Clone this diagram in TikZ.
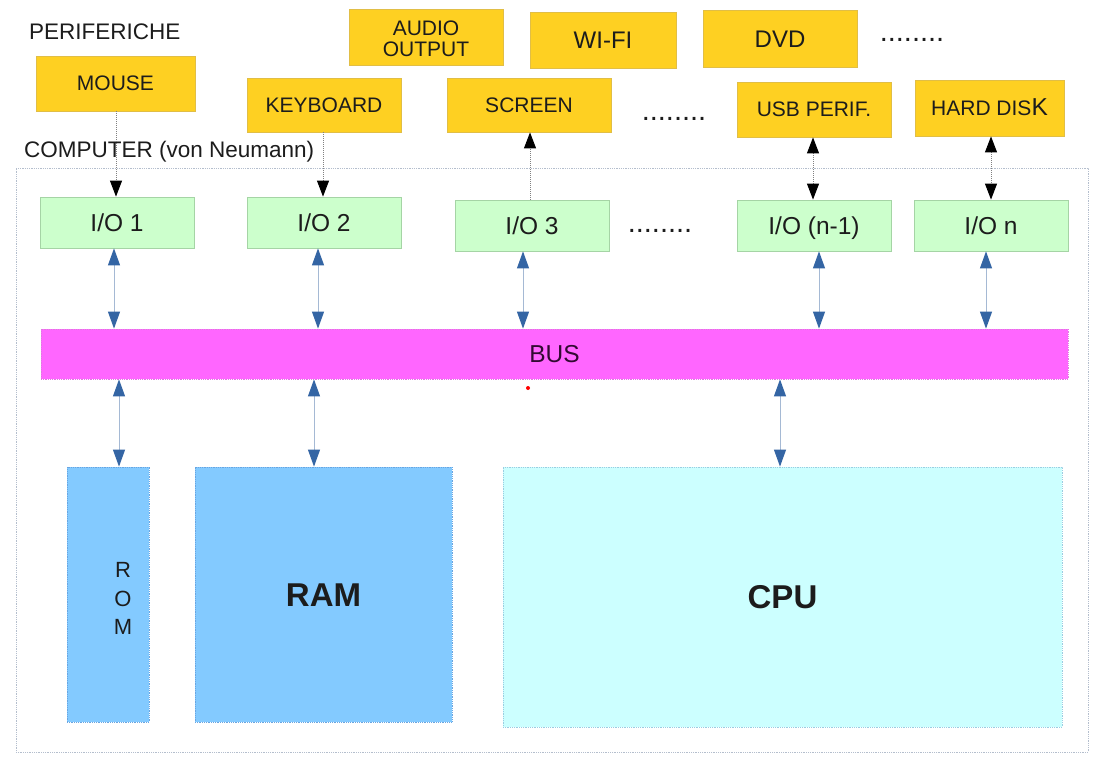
\documentclass[tikz,border=0pt]{standalone}
\usepackage{fontspec}
\setmainfont{Liberation Sans}
\usetikzlibrary{arrows.meta}
\definecolor{gold}{RGB}{254,208,34}
\definecolor{goldline}{RGB}{225,190,70}
\definecolor{iofill}{RGB}{204,255,204}
\definecolor{ioline}{RGB}{165,212,165}
\definecolor{busfill}{RGB}{255,102,255}
\definecolor{busline}{RGB}{225,120,225}
\definecolor{memfill}{RGB}{131,202,255}
\definecolor{memline}{RGB}{105,165,225}
\definecolor{cpufill}{RGB}{204,255,255}
\definecolor{cpuline}{RGB}{155,205,225}
\definecolor{outline}{RGB}{180,190,205}
\definecolor{txt}{RGB}{28,28,28}
\definecolor{bustxt}{RGB}{50,10,50}
\definecolor{bline}{RGB}{165,185,212}
\definecolor{tipblue}{RGB}{52,101,164}
\begin{document}
\begin{tikzpicture}[x=1pt,y=-1pt,
  box/.style={draw, line width=0.8pt, inner sep=0pt, text=txt, text depth=0pt},
  periph/.style={box, fill=gold, draw=goldline, font=\fontsize{21}{22}\selectfont, text height=15pt, minimum width=154pt, minimum height=55pt},
  bigperiph/.style={periph, font=\fontsize{24}{24}\selectfont, text height=17.2pt},
  iobox/.style={box, fill=iofill, draw=ioline, font=\fontsize{24.5}{25}\selectfont, text height=17.5pt, minimum width=154pt, minimum height=51pt},
  busbox/.style={box, fill=busfill, draw=busline, densely dotted, text=bustxt, font=\fontsize{24.5}{25}\selectfont, text height=17.5pt},
  membox/.style={box, fill=memfill, draw=memline, densely dotted, font=\bfseries\fontsize{33}{33}\selectfont, text height=23.6pt},
  cpubox/.style={box, fill=cpufill, draw=cpuline, densely dotted, font=\bfseries\fontsize{33}{33}\selectfont, text height=23.6pt},
  lbl/.style={inner sep=0pt, text=txt, anchor=west, font=\fontsize{22.5}{23}\selectfont, text height=16.1pt, text depth=0pt},
  dotsl/.style={inner sep=0pt, text=txt, anchor=base, font=\fontsize{29}{29}\selectfont},
  barr/.style={{Triangle[length=17pt,width=12pt,color=tipblue]}-{Triangle[length=17pt,width=12pt,color=tipblue]}, draw=bline, line width=1pt},
  darr/.style={-{Triangle[length=16pt,width=12pt,color=black]}, draw=gray, densely dotted, line width=1pt},
  ddarr/.style={{Triangle[length=16pt,width=12pt,color=black]}-{Triangle[length=16pt,width=12pt,color=black]}, draw=gray, densely dotted, line width=1pt}
]
\useasboundingbox (0,0) rectangle (1113,773);
\fill[white] (0,0) rectangle (1113,773);

% computer frame
\node[draw=outline, densely dotted, line width=0.8pt, inner sep=0pt, minimum width=1072pt, minimum height=584pt] (comp) at (552,460) {};

% labels
\node[lbl] (periflbl) at (29,31) {PERIFERICHE};
\node[lbl] (complbl) at (24,149) {COMPUTER (von Neumann)};

% peripherals
\node[periph, minimum width=159pt] (mouse) at (115.5,83.5) {MOUSE};
\node[periph, minimum height=54pt] (keyb) at (324,105) {KEYBOARD};
\node[periph, minimum height=56pt] (audio) at (426,37) {};
\node[inner sep=0pt, text=txt, align=center, font=\fontsize{21}{21.5}\selectfont] (audiolbl) at (426,39) {AUDIO\\OUTPUT};
\node[bigperiph, minimum width=146pt, minimum height=56pt] (wifi) at (603,40) {WI-FI};
\node[bigperiph, minimum height=57pt] (dvd) at (780,38.5) {DVD};
\node[periph, minimum width=164pt, minimum height=54pt] (screen) at (529,105) {SCREEN};
\node[periph] (usb) at (814,109.5) {USB PERIF.};
\node[periph, minimum width=149pt, minimum height=56pt] (hdd) at (989.5,108) {HARD DIS{\fontsize{24.5}{25}\selectfont K}};
\node[dotsl] (dots1) at (912,42) {........};
\node[dotsl] (dots2) at (674,121) {........};

% I/O
\node[iobox] (io1) at (117,222.5) {I/O 1};
\node[iobox] (io2) at (324,222.5) {I/O 2};
\node[iobox] (io3) at (532,225.5) {I/O 3};
\node[dotsl] (dots3) at (660,232) {........};
\node[iobox] (ion1) at (814,225.5) {I/O (n-1)};
\node[iobox] (ion) at (991,225.5) {I/O n};

% bus
\node[busbox, minimum width=1027pt, minimum height=50pt] (bus) at (554.5,354) {BUS};
\fill[red] (528,388) circle (2);

% memories and cpu
\node[membox, minimum width=82pt, minimum height=255pt] (rom) at (108,594.5) {};
\node[inner sep=0pt, text=txt, align=center, font=\fontsize{22}{28.5}\selectfont] (romlbl) at (123,598.5) {R\\O\\M};
\node[membox, minimum width=257pt, minimum height=255pt] (ram) at (323.5,594.5) {RAM};
\node[cpubox, minimum width=559pt, minimum height=260pt] (cpu) at (782.5,597) {CPU};

% x positions of connectors
\coordinate (x116) at (116,0);
\coordinate (x323) at (323,0);
\coordinate (x530) at (530,0);
\coordinate (x813) at (813,0);
\coordinate (x991) at (991,0);
\coordinate (x114) at (114,0);
\coordinate (x318) at (318,0);
\coordinate (x523) at (523,0);
\coordinate (x819) at (819,0);
\coordinate (x986) at (986,0);
\coordinate (x119) at (119,0);
\coordinate (x314) at (314,0);
\coordinate (x780) at (780,0);

% peripheral connectors
\draw[darr] (mouse.south -| x116) -- (io1.north -| x116);
\draw[darr] (keyb.south -| x323) -- (io2.north -| x323);
\draw[darr] (io3.north -| x530) -- (screen.south -| x530);
\draw[ddarr] (usb.south -| x813) -- (ion1.north -| x813);
\draw[ddarr] (hdd.south -| x991) -- (ion.north -| x991);

% bus connectors
\draw[barr] (io1.south -| x114) -- (bus.north -| x114);
\draw[barr] (io2.south -| x318) -- (bus.north -| x318);
\draw[barr] (io3.south -| x523) -- (bus.north -| x523);
\draw[barr] (ion1.south -| x819) -- (bus.north -| x819);
\draw[barr] (ion.south -| x986) -- (bus.north -| x986);
\draw[barr] (bus.south -| x119) -- (rom.north -| x119);
\draw[barr] (bus.south -| x314) -- (ram.north -| x314);
\draw[barr] (bus.south -| x780) -- (cpu.north -| x780);
\end{tikzpicture}
\end{document}
